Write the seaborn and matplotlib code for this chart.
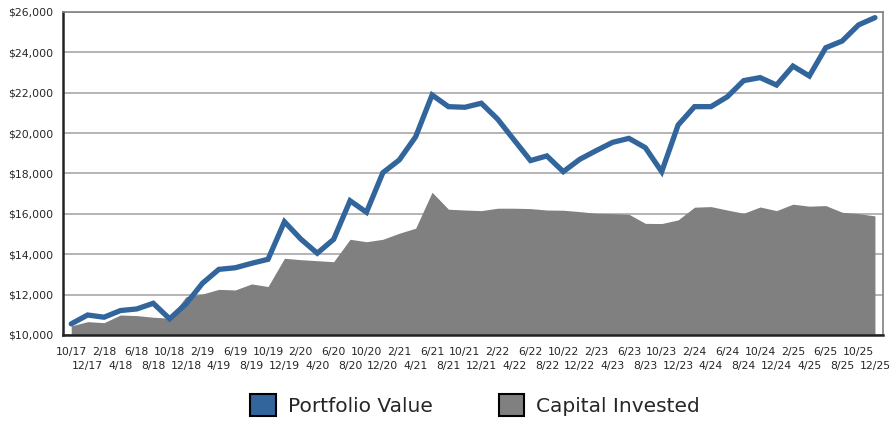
import numpy as np
import pandas as pd
import matplotlib
matplotlib.use("Agg")
import matplotlib.pyplot as plt
import matplotlib.patches as mpatches
import seaborn as sns

# 데이터
dates = ['10/17', '12/17', '2/18', '4/18', '6/18', '8/18', '10/18', '12/18',
         '2/19', '4/19', '6/19', '8/19', '10/19', '12/19', '2/20', '4/20',
         '6/20', '8/20', '10/20', '12/20', '2/21', '4/21', '6/21', '8/21',
         '10/21', '12/21', '2/22', '4/22', '6/22', '8/22', '10/22', '12/22',
         '2/23', '4/23', '6/23', '8/23', '10/23', '12/23', '2/24', '4/24',
         '6/24', '8/24', '10/24', '12/24', '2/25', '4/25', '6/25', '8/25',
         '10/25', '12/25']

portfolio = [10550, 10990, 10880, 11210, 11290, 11570, 10800, 11540,
             12560, 13250, 13330, 13550, 13750, 15610, 14750, 14050,
             14740, 16650, 16080, 18040, 18670, 19820, 21890, 21310,
             21280, 21480, 20690, 19660, 18640, 18870, 18090, 18700,
             19130, 19540, 19740, 19280, 18090, 20400, 21310, 21310,
             21800, 22600, 22750, 22380, 23320, 22830, 24230, 24560,
             25360, 25720]

capital = [10450, 10660, 10610, 10990, 10960, 10880, 10830, 11900,
           12030, 12260, 12230, 12530, 12400, 13800, 13730, 13680,
           13630, 14740, 14620, 14740, 15040, 15290, 17070, 16230,
           16190, 16160, 16280, 16280, 16260, 16190, 16180, 16110,
           16030, 16010, 15980, 15530, 15520, 15700, 16330, 16360,
           16190, 16030, 16340, 16160, 16480, 16380, 16410, 16080,
           16010, 15900]

df = pd.DataFrame({'idx': np.arange(len(dates)), 'date': dates,
                   'portfolio': portfolio, 'capital': capital})

sns.set_style('white')
plt.rcParams['font.family'] = ['DejaVu Sans']

line_color = '#31659c'
area_color = '#808080'

fig = plt.figure(figsize=(8.9, 4.22), dpi=100)
ax = fig.add_axes([0.0708, 0.2062, 0.9215, 0.7654])

ax.fill_between(df['idx'], 10000, df['capital'], color=area_color, linewidth=0, zorder=2)
sns.lineplot(data=df, x='idx', y='portfolio', ax=ax, color=line_color,
             linewidth=3.8, zorder=3, solid_joinstyle='miter')

ax.set_xlim(-0.5, len(dates) - 0.5)
ax.set_ylim(10000, 26000)
ax.set_yticks(np.arange(10000, 26001, 2000))
ax.set_yticklabels(['${:,.0f}'.format(v) for v in np.arange(10000, 26001, 2000)], fontsize=7.8)

# 라벨 두 줄로 엇갈리게: 짝수는 major, 홀수는 minor
even = df['idx'][::2]
odd = df['idx'][1::2]
ax.set_xticks(even)
ax.set_xticklabels(df['date'][::2], fontsize=7.8)
ax.set_xticks(odd, minor=True)
ax.set_xticklabels(df['date'][1::2], minor=True, fontsize=7.8)
ax.tick_params(axis='x', which='major', length=0, pad=8.5)
ax.tick_params(axis='x', which='minor', length=0, pad=19)
ax.tick_params(axis='y', length=0, pad=7)
ax.set_xlabel('')
ax.set_ylabel('')

ax.yaxis.grid(True, color='#a8a8a8', linewidth=1.2, zorder=0)
ax.set_axisbelow(True)
ax.xaxis.grid(False, which='both')

for s in ['top', 'right']:
    ax.spines[s].set_color('#808080')
    ax.spines[s].set_linewidth(1.2)
for s in ['left', 'bottom']:
    ax.spines[s].set_color('#222222')
    ax.spines[s].set_linewidth(1.8)

handles = [mpatches.Patch(facecolor=line_color, edgecolor='black', linewidth=1.5, label='Portfolio Value'),
           mpatches.Patch(facecolor=area_color, edgecolor='black', linewidth=1.5, label='Capital Invested')]
fig.legend(handles=handles, loc='center', bbox_to_anchor=(0.534, 0.04), ncol=2,
           frameon=False, fontsize=14.5, handlelength=1.25, handleheight=1.25,
           handletextpad=0.6, columnspacing=3.3)

fig.savefig('out.png', dpi=100)
